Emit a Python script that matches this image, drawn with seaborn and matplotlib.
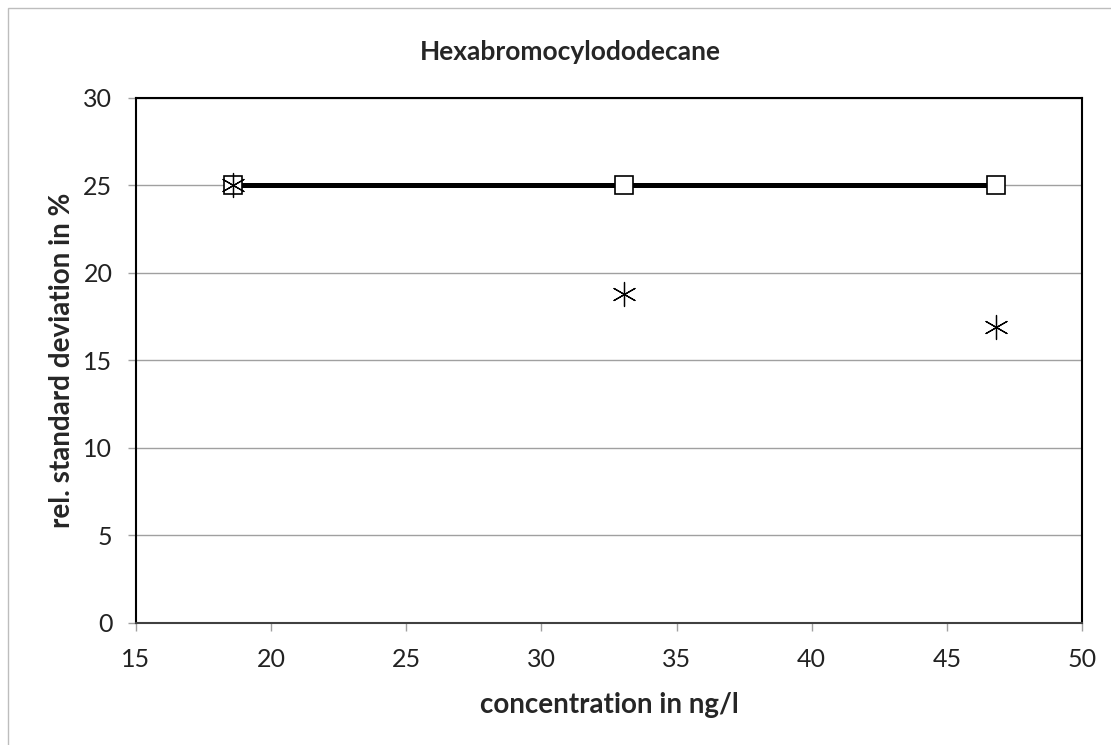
import matplotlib
matplotlib.use("Agg")
import matplotlib.pyplot as plt
import seaborn as sns
import pandas as pd
from matplotlib.patches import Rectangle

concentration = [18.6, 33.05, 46.8]
target_rsd = [25, 25, 25]
measured_rsd = [25, 18.8, 16.9]
x_ticks = [15, 20, 25, 30, 35, 40, 45, 50]
y_ticks = [0, 5, 10, 15, 20, 25, 30]

sns.set_theme(style="white")
plt.rcParams['font.family'] = ['Lato', 'DejaVu Sans']

df_target = pd.DataFrame({"x": concentration, "y": target_rsd})
df_meas = pd.DataFrame({"x": concentration, "y": measured_rsd})

fig = plt.figure(figsize=(11.11, 7.45), dpi=100)
ax = fig.add_axes([0.1224, 0.1638, 0.8515, 0.7047])

ax.yaxis.grid(True, color="#a0a0a0", linewidth=1.0)
ax.set_axisbelow(True)

sns.lineplot(data=df_target, x="x", y="y", ax=ax, color="black", linewidth=3.6,
             marker="s", markersize=13, markerfacecolor="white",
             markeredgecolor="black", markeredgewidth=1.2, zorder=3)
sns.scatterplot(data=df_meas, x="x", y="y", ax=ax, marker=(6, 2, 0), s=300,
                color="black", linewidth=0.9, edgecolor="black", zorder=4)

ax.set_xlim(15, 50)
ax.set_ylim(0, 30)
ax.set_xticks(x_ticks)
ax.set_yticks(y_ticks)
ax.tick_params(axis="both", which="major", labelsize=18, length=6, width=1,
               color="#a0a0a0", direction="out", labelcolor="#222222",
               bottom=True, left=True)
ax.tick_params(axis="x", pad=12)
ax.tick_params(axis="y", pad=11)
for side in ["top", "right", "left"]:
    ax.spines[side].set_color("black")
    ax.spines[side].set_linewidth(1.5)
ax.spines["bottom"].set_color("#404040")
ax.spines["bottom"].set_linewidth(1.5)

ax.set_title("Hexabromocylododecane", fontsize=19, fontweight="bold", pad=27, x=0.459)
ax.set_xlabel("concentration in ng/l", fontsize=20, fontweight="bold", labelpad=15)
ax.set_ylabel("rel. standard deviation in %", fontsize=20, fontweight="bold", labelpad=6)

fig.patches.append(Rectangle((8 / 1111, -0.1), 1.2, (745 - 8) / 745 + 0.1,
                             transform=fig.transFigure, fill=False,
                             edgecolor="#bdbdbd", linewidth=1.0))

fig.savefig("out.png", dpi=100, facecolor="white")
